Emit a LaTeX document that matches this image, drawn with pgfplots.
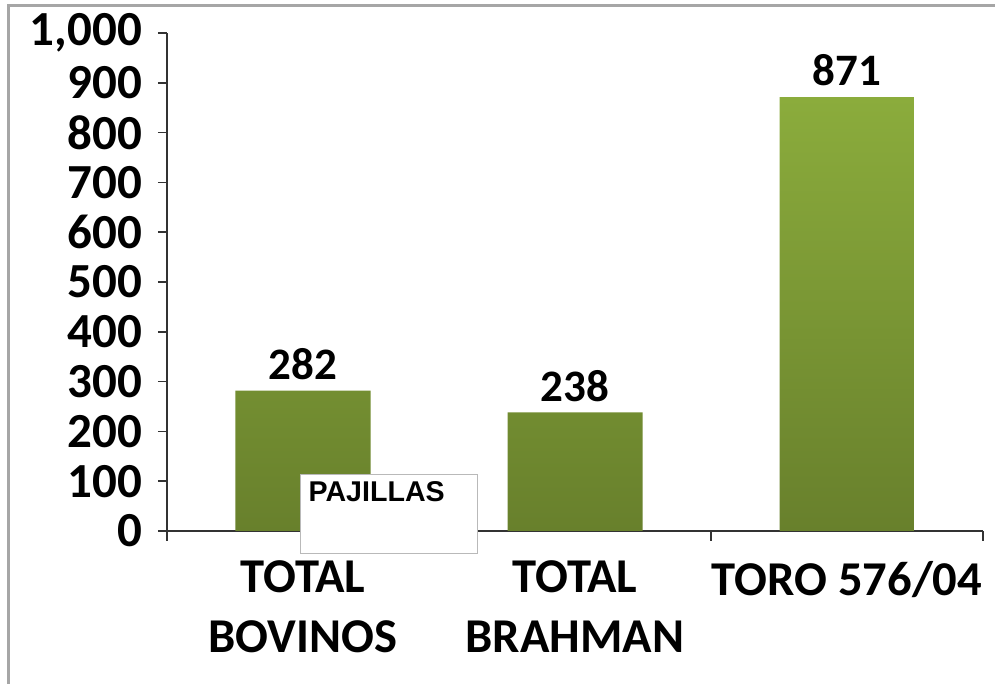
\documentclass[border=0pt]{standalone}
\usepackage{fontspec}
\setmainfont{Carlito}
\newfontfamily\arial{Liberation Sans}
\usepackage{pgfplots}
\pgfplotsset{compat=1.18}
\definecolor{bartop}{RGB}{139,172,60}
\definecolor{barbot}{RGB}{104,128,44}
\begin{document}
\begin{tikzpicture}[x=0.5pt,y=0.5pt]
\useasboundingbox (0,0) rectangle (995,684);
\draw[gray!70,line width=1.5pt] (8,0) -- (8,678) -- (995,678);
\begin{axis}[
  at={(83.5pt,76.5pt)}, anchor=south west,
  scale only axis, width=408pt, height=249pt,
  xmin=-0.5, xmax=2.5, ymin=0, ymax=1000,
  axis lines*=left,
  axis line style={black!80, line width=0.8pt},
  ytick={0,100,...,1000},
  xtick={0,1,2},
  xticklabels={{TOTAL\\BOVINOS},{TOTAL\\BRAHMAN},{TORO 576/04}},
  x tick style={draw=none},
  extra x ticks={-0.5,0.5,1.5,2.5},
  extra x tick labels={},
  extra x tick style={x tick style={draw=black!80, line width=0.8pt}, major tick length=5pt},
  tick align=outside,
  major tick length=4.5pt,
  y tick style={black!80, line width=0.8pt},
  /pgf/number format/assume math mode=true,
  /pgf/number format/1000 sep={,},
  yticklabel style={font=\fontsize{24.5}{28}\selectfont\bfseries, anchor=east, xshift=-4.5pt},
  xticklabel style={font=\fontsize{24.3}{30}\selectfont\bfseries, align=center, anchor=north, yshift=-7pt},
  ybar, bar width=67.5pt, bar shift=0pt,
  nodes near coords,
  nodes near coords style={font=\fontsize{22.5}{26}\selectfont\bfseries, anchor=south, yshift=2pt},
  legend image code/.code={},
  legend style={at={(rel axis cs:0.163,0.1145)}, anchor=north west, draw=gray!55, fill=white, line width=0.6pt, inner sep=0pt,
    nodes={inner sep=0pt, text height=13.5pt, text depth=26pt, anchor=base west}, font=\arial\bfseries\fontsize{14.3}{16}\selectfont},
]
\addplot[draw=none, top color=bartop, bottom color=barbot] coordinates {(0,282) (1,238) (2,871)};
\addlegendentry{\hspace*{4pt}PAJILLAS\hspace*{16.5pt}}
\end{axis}
\end{tikzpicture}
\end{document}
